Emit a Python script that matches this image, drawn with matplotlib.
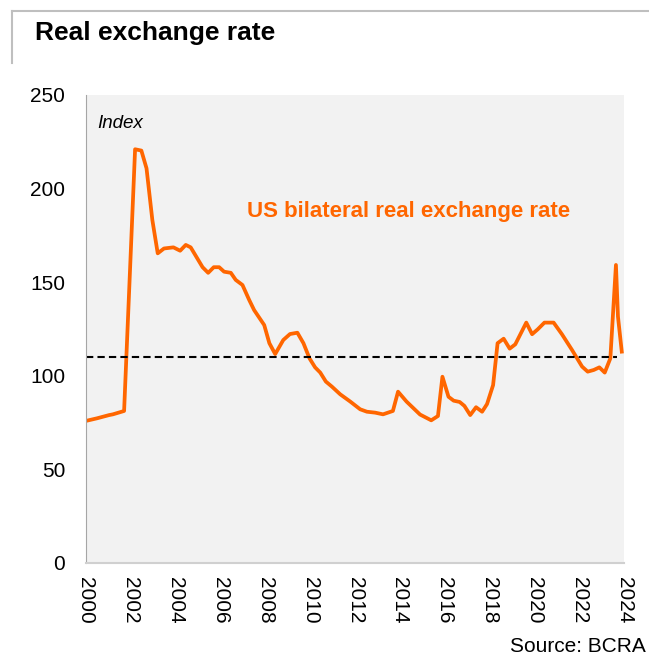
import matplotlib
matplotlib.use("Agg")
import matplotlib.pyplot as plt
from matplotlib.lines import Line2D

plt.rcParams['font.family'] = ['Liberation Sans', 'DejaVu Sans']

# US bilateral real exchange rate, index
years = [2000.0, 2000.5, 2001.03, 2001.2, 2001.7, 2002.19, 2002.47, 2002.7, 2002.96,
         2003.2, 2003.48, 2003.9, 2004.2, 2004.45, 2004.67, 2005.2, 2005.45, 2005.7,
         2005.94, 2006.16, 2006.46, 2006.68, 2006.98, 2007.28, 2007.5, 2007.95,
         2008.18, 2008.44, 2008.8, 2009.1, 2009.43, 2009.7, 2009.97, 2010.22,
         2010.45, 2010.7, 2010.97, 2011.34, 2011.79, 2012.23, 2012.53, 2012.9,
         2013.25, 2013.69, 2013.92, 2014.3, 2014.9, 2015.4, 2015.7, 2015.9,
         2016.17, 2016.4, 2016.67, 2016.88, 2017.14, 2017.4, 2017.67, 2017.89,
         2018.16, 2018.36, 2018.63, 2018.9, 2019.15, 2019.64, 2019.9, 2020.15,
         2020.45, 2020.86, 2021.23, 2021.68, 2022.13, 2022.38, 2022.65, 2022.9,
         2023.14, 2023.39, 2023.64, 2023.73, 2023.9]
rer = [75.9, 77.3, 79.0, 79.4, 81.2, 221.0, 220.3, 210.8, 183.2,
       165.4, 168.0, 168.6, 166.8, 169.9, 168.6, 158.0, 155.0, 158.0,
       158.0, 155.6, 155.0, 151.2, 148.5, 140.5, 135.1, 127.1,
       117.4, 111.6, 119.1, 122.3, 123.0, 117.4, 109.3, 104.5,
       101.7, 96.9, 94.2, 90.1, 86.2, 82.1, 80.8, 80.3,
       79.4, 81.2, 91.5, 86.2, 79.3, 76.2, 78.5, 99.5,
       88.8, 86.7, 86.0, 83.9, 79.0, 83.2, 80.8, 84.9,
       95.0, 117.4, 119.8, 114.5, 116.8, 128.4, 122.2, 124.8,
       128.4, 128.4, 122.2, 113.8, 104.9, 102.2, 103.1, 104.5,
       101.7, 109.3, 159.2, 131.6, 112.9]
avg_level = 110
xticks = list(range(2000, 2025, 2))
yticks = [0, 50, 100, 150, 200, 250]

orange = '#ff6600'

fig = plt.figure(figsize=(6.49, 6.55), dpi=100)
ax = fig.add_axes([0.1325, 0.1405, 0.829, 0.7145])
ax.set_facecolor('#f2f2f2')

ax.plot(years, rer, color=orange, lw=2.7, solid_joinstyle='round')
ax.hlines(avg_level, 2000, 2023.7, colors='black', linestyles=(0, (3.5, 2)), lw=1.5)

ax.set_xlim(2000, 2024)
ax.set_ylim(0, 250)
ax.set_xticks(xticks)
ax.set_xticklabels([str(y) for y in xticks], rotation=-90, fontsize=15)
ax.set_yticks(yticks)
ax.set_yticklabels([str(v) for v in yticks], fontsize=15)
ax.tick_params(axis='both', length=0)
ax.tick_params(axis='y', pad=15)
ax.tick_params(axis='x', pad=10)

for side in ['top', 'right']:
    ax.spines[side].set_visible(False)
ax.spines['left'].set_color('#a6a6a6')
ax.spines['bottom'].set_color('#d0d0d0')
ax.spines['bottom'].set_linewidth(1.5)

ax.text(0.02, 0.938, 'Index', transform=ax.transAxes, style='italic',
        fontsize=13.5, va='center', ha='left')
ax.text(2007.18, 187.5, 'US bilateral real exchange rate', color=orange,
        fontsize=16, fontweight='bold', va='center', ha='left')

# title box
fig.add_artist(Line2D([0.0185, 1.0], [0.983, 0.983], color='#bfbfbf', lw=1.5))
fig.add_artist(Line2D([0.0185, 0.0185], [0.983, 0.904], color='#bfbfbf', lw=1.5))
fig.text(0.054, 0.949, 'Real exchange rate', fontsize=19, fontweight='bold',
         va='center', ha='left')

fig.text(0.995, 0.0137, 'Source: BCRA', fontsize=15, va='center', ha='right')

fig.savefig('out.png', dpi=100)
